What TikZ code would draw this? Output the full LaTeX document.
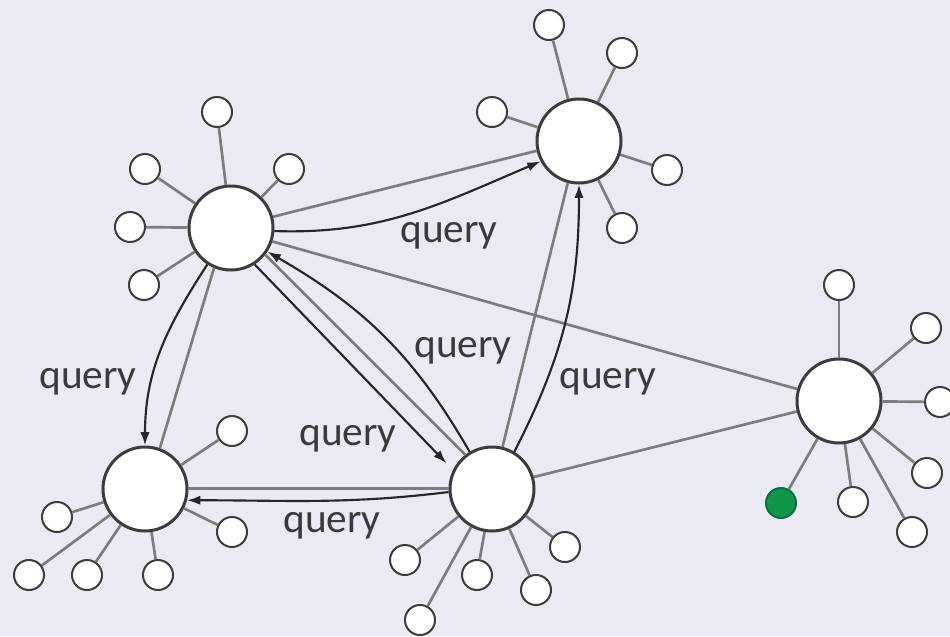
\documentclass[tikz,border=0pt]{standalone}
\usepackage{fontspec}
\setmainfont{Carlito}
\usetikzlibrary{arrows.meta}
\definecolor{bg}{HTML}{E9EAF3}
\definecolor{hubline}{HTML}{3C3C3C}
\definecolor{linkgray}{HTML}{7C7C7C}
\definecolor{arrcol}{HTML}{262626}
\definecolor{lbl}{HTML}{3A3A3A}
\definecolor{grn}{RGB}{14,150,74}
\begin{document}
\begin{tikzpicture}[x=0.75pt,y=-0.75pt,
  hub/.style={circle,draw=hubline,line width=2.25pt,fill=white,minimum size=63pt,inner sep=0pt},
  leaf/.style={circle,draw=hubline,line width=1.5pt,fill=white,minimum size=22.5pt,inner sep=0pt},
  seed/.style={leaf,fill=grn,draw=grn!75!black},
  spoke/.style={draw=linkgray,line width=2pt},
  glink/.style={draw=linkgray,line width=2pt},
  qarrow/.style={draw=arrcol,line width=1.6pt,-{Latex[length=10pt,width=7pt]}},
  qlabel/.style={text=lbl,font=\fontsize{31}{36}\selectfont,anchor=base,inner sep=0pt}
]
\fill[bg] (0,0) rectangle (950,636);
\useasboundingbox (0,0) rectangle (950,636);

% hubs
\node[hub] (A) at (231,228) {};
\node[hub] (B) at (579,141) {};
\node[hub] (C) at (145,489) {};
\node[hub] (D) at (492,489) {};
\node[hub] (E) at (839,401) {};

% leaves of A
\node[leaf] (a1) at (217,112) {};
\node[leaf] (a2) at (145,169) {};
\node[leaf] (a3) at (130,227) {};
\node[leaf] (a4) at (144,285) {};
\node[leaf] (a5) at (289,169) {};
% leaves of B
\node[leaf] (b1) at (549,25) {};
\node[leaf] (b2) at (622,53) {};
\node[leaf] (b3) at (492,112) {};
\node[leaf] (b4) at (667,170) {};
\node[leaf] (b5) at (622,228) {};
% leaves of C
\node[leaf] (c1) at (232,431) {};
\node[leaf] (c2) at (232,532) {};
\node[leaf] (c3) at (57,517) {};
\node[leaf] (c4) at (29,575) {};
\node[leaf] (c5) at (87,575) {};
\node[leaf] (c6) at (158,575) {};
% leaves of D
\node[leaf] (d1) at (405,560) {};
\node[leaf] (d2) at (420,620) {};
\node[leaf] (d3) at (477,575) {};
\node[leaf] (d4) at (536,590) {};
\node[leaf] (d5) at (565,547) {};
% leaves of E
\node[leaf] (e1) at (839,285) {};
\node[leaf] (e2) at (926,328) {};
\node[leaf] (e3) at (940,402) {};
\node[leaf] (e4) at (927,473) {};
\node[leaf] (e5) at (912,532) {};
\node[leaf] (e6) at (853,502) {};
\node[seed] (g) at (781,503) {};

% spokes
\foreach \h/\l in {A/a1,A/a2,A/a3,A/a4,A/a5,B/b1,B/b2,B/b3,B/b4,B/b5,
  C/c1,C/c2,C/c3,C/c4,C/c5,C/c6,D/d1,D/d2,D/d3,D/d4,D/d5,
  E/e1,E/e2,E/e3,E/e4,E/e5,E/e6,E/g}
  \draw[spoke] (\h) -- (\l);

% links between hubs
\draw[glink] (A.15) -- (B.193);
\draw[glink] (A.-18) -- (E.164);
\draw[glink] (A.247) -- (C.70);
\draw[glink] (C.1) -- (D.179);
\draw[glink] (D.76) -- (B.255);
\draw[glink] (A.-38) -- (D.128);
\draw[glink] (D.16) -- (E.194);

% query arrows
\draw[qarrow] (A.-4) to[out=-2,in=203] (B.208);
\draw[qarrow] (A.237) to[out=237,in=90] (C.90);
\draw[qarrow] (D.184) to[out=187,in=0] (C.-15);
\draw[qarrow] (D.59) to[out=63,in=-90] (B.270);
\draw[qarrow,shorten >=7pt] (A.-57) -- (D.154);
\draw[qarrow] (D.121) to[out=120,in=-30] (A.-33);

% labels
\node[qlabel] (q1) at (449,242) {query};
\node[qlabel] (q2) at (88,388) {query};
\node[qlabel] (q3) at (348,445) {query};
\node[qlabel] (q4) at (463,357) {query};
\node[qlabel] (q5) at (608,388) {query};
\node[qlabel] (q6) at (332,532) {query};
\end{tikzpicture}
\end{document}
